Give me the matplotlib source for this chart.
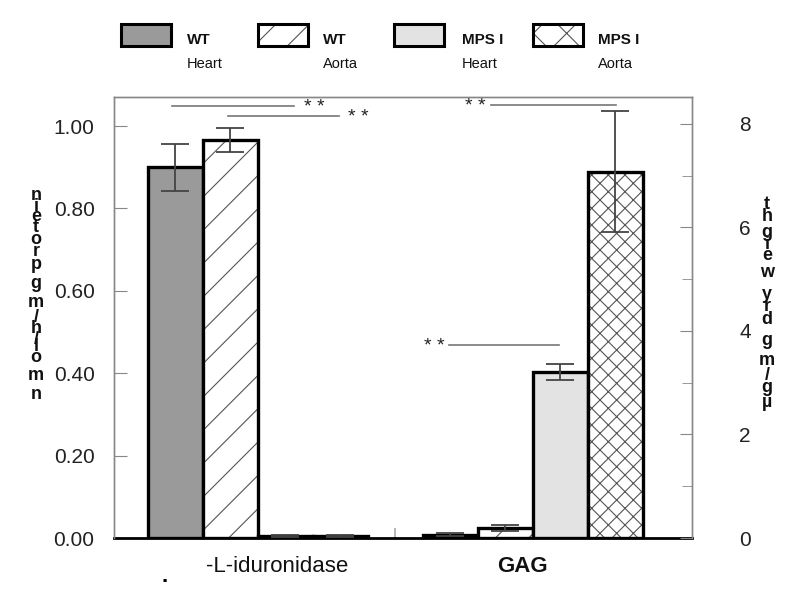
import matplotlib
matplotlib.use("Agg")
import matplotlib.pyplot as plt
from matplotlib.patches import Rectangle
import numpy as np

plt.rcParams['font.family'] = ['Liberation Sans', 'DejaVu Sans']
plt.rcParams['hatch.linewidth'] = 0.8

# ---------------- data ----------------
series = ["WT Heart", "WT Aorta", "MPS I Heart", "MPS I Aorta"]
legend_top = ["WT", "WT", "MPS I", "MPS I"]
legend_bottom = ["Heart", "Aorta", "Heart", "Aorta"]
enzyme_vals = [0.900, 0.966, 0.005, 0.005]      # nmol/h/mg protein (left axis)
enzyme_err = [0.057, 0.029, 0.002, 0.002]
gag_vals = [0.06, 0.19, 3.21, 7.08]             # ug/mg dry weight (right axis)
gag_err = [0.03, 0.06, 0.15, 1.17]
group_labels = ["-L-iduronidase", "GAG"]
left_ticks = [0.0, 0.2, 0.4, 0.6, 0.8, 1.0]
right_ticks = [0, 2, 4, 6, 8]
right_minor = [1, 3, 5, 7]

fills = ["#9a9a9a", "white", "#e3e3e3", "white"]
hatches = [None, "/", None, "xx"]

fig = plt.figure(figsize=(8, 6.13), dpi=100)
ax = fig.add_axes([114/800, 1-538/613, (692-114)/800, (538-97)/613])
ax2 = ax.twinx()

w = 0.2
offsets = (np.arange(4) - 1.5) * w
for i in range(4):
    kw = dict(width=w, color=fills[i], edgecolor="black", linewidth=2.4,
              hatch=hatches[i], zorder=2)
    b1 = ax.bar(0 + offsets[i], enzyme_vals[i], **kw)
    b2 = ax2.bar(1 + offsets[i], gag_vals[i], **kw)
    for b in list(b1) + list(b2):
        if hatches[i]:
            b._hatch_color = matplotlib.colors.to_rgba("#555555")
    ax.errorbar(0 + offsets[i], enzyme_vals[i], yerr=enzyme_err[i], fmt="none",
                ecolor="#444444", elinewidth=1.3, capsize=10, capthick=1.3, zorder=3)
    ax2.errorbar(1 + offsets[i], gag_vals[i], yerr=gag_err[i], fmt="none",
                 ecolor="#444444", elinewidth=1.3, capsize=10, capthick=1.3, zorder=3)

ax.set_xlim(-0.522, 1.58)
ax.set_ylim(0, 1.0704)
ax2.set_ylim(0, 8.52)

# significance lines
sig = [(-0.31, 0.131, 1.049, 0.208), (-0.109, 0.296, 1.024, 0.365),
       (0.850, 1.303, 1.052, 0.792), (0.697, 1.095, 0.468, 0.642)]
for x0, x1, y, xt in sig:
    ax.plot([x0, x1], [y, y], color="#777777", lw=1.2, zorder=4, clip_on=False)
    ax.text(xt, y - 0.004, "* *", ha="center", va="center", fontsize=14, color="#222222")

# axes styling
for s in ["left", "right", "top"]:
    ax.spines[s].set_color("#888888")
    ax2.spines[s].set_color("#888888")
    ax.spines[s].set_linewidth(1.0)
    ax2.spines[s].set_linewidth(1.0)
ax.spines["bottom"].set_color("black")
ax.spines["bottom"].set_linewidth(2.0)
ax2.spines["bottom"].set_visible(False)

ax.set_yticks(left_ticks)
ax.set_yticklabels([f"{v:.2f}" for v in left_ticks])
ax.tick_params(axis="y", direction="in", length=9, color="#888888", pad=14,
               labelsize=15, labelcolor="#222222")
ax2.set_yticks(right_ticks)
ax2.set_yticks(right_minor, minor=True)
ax2.tick_params(axis="y", which="major", direction="in", length=9, color="#888888",
                pad=34, labelsize=15, labelcolor="#222222")
ax2.tick_params(axis="y", which="minor", direction="in", length=7, color="#888888")
ax.set_xticks([0.5])
ax.set_xticklabels([""])
ax.tick_params(axis="x", direction="in", length=7, color="#aaaaaa", width=1.2)

# group labels
ax.text(0.073, -0.065, group_labels[0], transform=ax.get_xaxis_transform(),
        ha="center", va="center", fontsize=16, fontweight="medium", color="#111111")
ax.text(0.965, -0.065, group_labels[1], transform=ax.get_xaxis_transform(),
        ha="center", va="center", fontsize=16, fontweight="bold", color="#111111")
fig.text(165/800, 1-576/613, ".", ha="center", va="center", fontsize=16, fontweight="bold")

# legend (manual)
leg_x = [121, 258, 394, 533]
leg_tx = [187, 323, 462, 598]
for i in range(4):
    r = Rectangle((leg_x[i]/800, 1-46/613), 50/800, 22/613, transform=fig.transFigure,
                  facecolor=fills[i], edgecolor="black", linewidth=2.2,
                  hatch=hatches[i] if hatches[i] != "xx" else "x")
    if hatches[i]:
        r._hatch_color = matplotlib.colors.to_rgba("#555555")
    fig.add_artist(r)
    fig.text(leg_tx[i]/800, 1-40/613, legend_top[i], ha="left", va="center",
             fontsize=11, fontweight="bold", color="#111111")
    fig.text(leg_tx[i]/800, 1-64/613, legend_bottom[i], ha="left", va="center",
             fontsize=10.5, color="#111111")

# stacked vertical axis labels: one glyph per character, advancing by glyph width
def stacked(text, xc, ytop, ybot, fs):
    chars = list(reversed(text))
    rend = fig.canvas.get_renderer()
    adv = []
    for ch in chars:
        if ch == " ":
            adv.append(fs * 0.25)
            continue
        t = fig.text(0, 0, ch, fontsize=fs, fontweight="bold")
        adv.append(t.get_window_extent(rend).width)
        t.remove()
    adv = np.array(adv)
    scale = (ybot - ytop) / adv.sum()
    y = ytop
    for ch, a in zip(chars, adv * scale):
        if ch != " ":
            fig.text(xc/800, 1-(y + a/2)/613, ch, ha="center", va="center",
                     fontsize=fs, fontweight="bold", color="#111111")
        y += a

stacked("nmol/h/mg protein", 36, 188, 402, 13)
stacked("\u00b5g/mg dry weight", 767, 200, 410, 13)

fig.savefig("out.png", dpi=100)
